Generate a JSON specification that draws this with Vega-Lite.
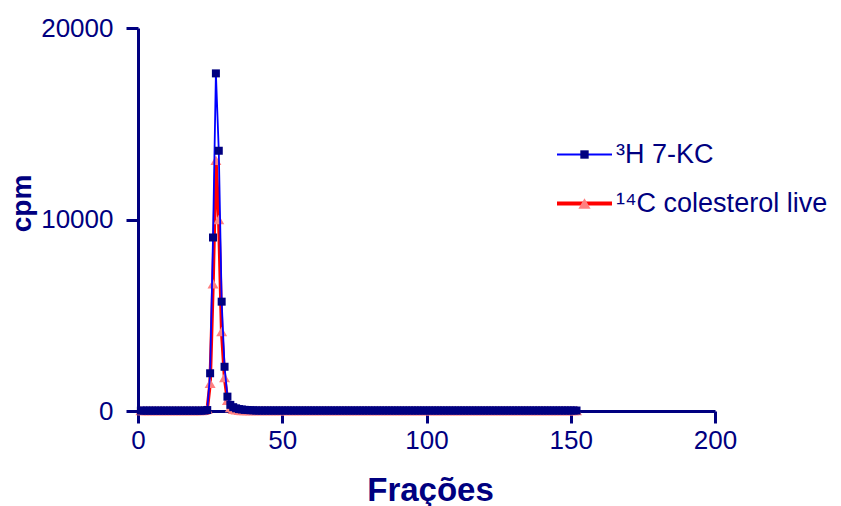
{
"$schema":"https://vega.github.io/schema/vega-lite/v6.json",
"width":577,"height":383,
"autosize":"none",
"padding":{"left":138,"top":28,"right":126,"bottom":95},
"config":{"view":{"stroke":null},"font":"Liberation Sans"},
"data":{"values":[
{"f":1,"h":20,"c":30},{"f":2,"h":20,"c":30},{"f":3,"h":20,"c":30},{"f":4,"h":20,"c":30},{"f":5,"h":20,"c":30},{"f":6,"h":20,"c":30},{"f":7,"h":20,"c":30},{"f":8,"h":20,"c":30},{"f":9,"h":20,"c":30},{"f":10,"h":20,"c":30},
{"f":11,"h":20,"c":30},{"f":12,"h":20,"c":30},{"f":13,"h":20,"c":30},{"f":14,"h":20,"c":30},{"f":15,"h":20,"c":30},{"f":16,"h":20,"c":30},{"f":17,"h":20,"c":30},{"f":18,"h":20,"c":30},{"f":19,"h":20,"c":30},{"f":20,"h":20,"c":30},
{"f":21,"h":20,"c":30},{"f":22,"h":20,"c":30},{"f":23,"h":25,"c":40},{"f":24,"h":50,"c":100},{"f":25,"h":1970,"c":1450},{"f":26,"h":9060,"c":6650},{"f":27,"h":17630,"c":13100},{"f":28,"h":13590,"c":10000},{"f":29,"h":5710,"c":4150},{"f":30,"h":2310,"c":1750},
{"f":31,"h":750,"c":560},{"f":32,"h":320,"c":180},{"f":33,"h":200,"c":90},{"f":34,"h":140,"c":60},{"f":35,"h":100,"c":40},{"f":36,"h":80,"c":30},{"f":37,"h":60,"c":25},{"f":38,"h":50,"c":25},{"f":39,"h":40,"c":25},{"f":40,"h":35,"c":25},
{"f":41,"h":25,"c":20},{"f":42,"h":25,"c":20},{"f":43,"h":25,"c":20},{"f":44,"h":25,"c":20},{"f":45,"h":25,"c":20},{"f":46,"h":25,"c":20},{"f":47,"h":25,"c":20},{"f":48,"h":25,"c":20},{"f":49,"h":25,"c":20},{"f":50,"h":25,"c":20},
{"f":51,"h":25,"c":20},{"f":52,"h":25,"c":20},{"f":53,"h":25,"c":20},{"f":54,"h":25,"c":20},{"f":55,"h":25,"c":20},{"f":56,"h":25,"c":20},{"f":57,"h":25,"c":20},{"f":58,"h":25,"c":20},{"f":59,"h":25,"c":20},{"f":60,"h":25,"c":20},
{"f":61,"h":25,"c":20},{"f":62,"h":25,"c":20},{"f":63,"h":25,"c":20},{"f":64,"h":25,"c":20},{"f":65,"h":25,"c":20},{"f":66,"h":25,"c":20},{"f":67,"h":25,"c":20},{"f":68,"h":25,"c":20},{"f":69,"h":25,"c":20},{"f":70,"h":25,"c":20},
{"f":71,"h":25,"c":20},{"f":72,"h":25,"c":20},{"f":73,"h":25,"c":20},{"f":74,"h":25,"c":20},{"f":75,"h":25,"c":20},{"f":76,"h":25,"c":20},{"f":77,"h":25,"c":20},{"f":78,"h":25,"c":20},{"f":79,"h":25,"c":20},{"f":80,"h":25,"c":20},
{"f":81,"h":25,"c":20},{"f":82,"h":25,"c":20},{"f":83,"h":25,"c":20},{"f":84,"h":25,"c":20},{"f":85,"h":25,"c":20},{"f":86,"h":25,"c":20},{"f":87,"h":25,"c":20},{"f":88,"h":25,"c":20},{"f":89,"h":25,"c":20},{"f":90,"h":25,"c":20},
{"f":91,"h":25,"c":20},{"f":92,"h":25,"c":20},{"f":93,"h":25,"c":20},{"f":94,"h":25,"c":20},{"f":95,"h":25,"c":20},{"f":96,"h":25,"c":20},{"f":97,"h":25,"c":20},{"f":98,"h":25,"c":20},{"f":99,"h":25,"c":20},{"f":100,"h":25,"c":20},
{"f":101,"h":25,"c":20},{"f":102,"h":25,"c":20},{"f":103,"h":25,"c":20},{"f":104,"h":25,"c":20},{"f":105,"h":25,"c":20},{"f":106,"h":25,"c":20},{"f":107,"h":25,"c":20},{"f":108,"h":25,"c":20},{"f":109,"h":25,"c":20},{"f":110,"h":25,"c":20},
{"f":111,"h":25,"c":20},{"f":112,"h":25,"c":20},{"f":113,"h":25,"c":20},{"f":114,"h":25,"c":20},{"f":115,"h":25,"c":20},{"f":116,"h":25,"c":20},{"f":117,"h":25,"c":20},{"f":118,"h":25,"c":20},{"f":119,"h":25,"c":20},{"f":120,"h":25,"c":20},
{"f":121,"h":25,"c":20},{"f":122,"h":25,"c":20},{"f":123,"h":25,"c":20},{"f":124,"h":25,"c":20},{"f":125,"h":25,"c":20},{"f":126,"h":25,"c":20},{"f":127,"h":25,"c":20},{"f":128,"h":25,"c":20},{"f":129,"h":25,"c":20},{"f":130,"h":25,"c":20},
{"f":131,"h":25,"c":20},{"f":132,"h":25,"c":20},{"f":133,"h":25,"c":20},{"f":134,"h":25,"c":20},{"f":135,"h":25,"c":20},{"f":136,"h":25,"c":20},{"f":137,"h":25,"c":20},{"f":138,"h":25,"c":20},{"f":139,"h":25,"c":20},{"f":140,"h":25,"c":20},
{"f":141,"h":25,"c":20},{"f":142,"h":25,"c":20},{"f":143,"h":25,"c":20},{"f":144,"h":25,"c":20},{"f":145,"h":25,"c":20},{"f":146,"h":25,"c":20},{"f":147,"h":25,"c":20},{"f":148,"h":25,"c":20},{"f":149,"h":25,"c":20},{"f":150,"h":25,"c":20},
{"f":151,"h":25,"c":20},{"f":152,"h":25,"c":20}
]},
"transform":[{"fold":["h","c"],"as":["s","v"]}],
"encoding":{
 "x":{"field":"f","type":"quantitative","scale":{"domain":[0,200],"nice":false,"zero":false},
  "axis":{"values":[0,50,100,150,200],"labelFlush":false,"title":"Frações","grid":false,"domainColor":"#000080","domainWidth":3,"tickColor":"#000080","tickWidth":3,"tickSize":12,"labelFontSize":26,"labelColor":"#000080","labelPadding":4,"labelFont":"Liberation Sans","titleFont":"Liberation Sans","titleFontSize":33,"titleFontWeight":"bold","titleColor":"#000080","titleX":292,"titleY":89,"titleBaseline":"alphabetic"}},
 "y":{"field":"v","type":"quantitative","scale":{"domain":[0,20000],"nice":false},
  "axis":{"values":[0,10000,20000],"labelFlush":false,"format":"d","title":"cpm","grid":false,"domainColor":"#000080","domainWidth":3,"tickColor":"#000080","tickWidth":3,"tickSize":12,"labelFontSize":26,"labelColor":"#000080","labelPadding":13,"labelFont":"Liberation Sans","titleFont":"Liberation Sans","titleFontSize":28,"titleFontWeight":"bold","titleColor":"#000080","titleX":-108,"titleY":175,"titleAlign":"center","titleBaseline":"alphabetic","titleAngle":-90}}
},
"layer":[
 {"transform":[{"filter":"datum.s==='c'"}],"mark":{"type":"line","strokeWidth":3.5},
  "encoding":{"color":{"field":"s","type":"nominal","scale":{"domain":["h","c"],"range":["#0000FF","#FF0000"]},
   "legend":{"orient":"none","legendX":433,"legendY":113,"title":null,"symbolType":"stroke","symbolSize":3025,"labelFontSize":27,"labelColor":"#000080","labelFont":"Liberation Sans","labelLimit":400,"labelOffset":18,"rowPadding":21,"labelExpr":"datum.value==='h' ? '³H 7-KC' : '¹⁴C colesterol live'","encode":{"symbols":{"update":{"strokeWidth":{"signal":"datum.value==='h' ? 1.8 : 4"}}}}}}}},
 {"transform":[{"filter":"datum.s==='c'"}],"mark":{"type":"point","filled":true,"opacity":1,"size":120},
  "encoding":{"fill":{"field":"s","type":"nominal","sort":"descending","scale":{"range":["#000080","#FF8080"]},
   "legend":{"orient":"none","legendX":433,"legendY":113,"title":null,"symbolSize":110,"symbolOpacity":1,"symbolStrokeWidth":0,"labelFontSize":27,"labelColor":"transparent","labelFont":"Liberation Sans","labelLimit":400,"labelOffset":18,"rowPadding":21,"labelExpr":"datum.value==='h' ? '³H 7-KC' : '¹⁴C colesterol live'","encode":{"symbols":{"update":{"size":{"signal":"datum.value==='h' ? 70 : 150"}}}}}},
   "shape":{"field":"s","type":"nominal","sort":"descending","scale":{"range":["square","triangle-up"]}}}},
 {"transform":[{"filter":"datum.s==='h'"}],"mark":{"type":"line","strokeWidth":1.8},
  "encoding":{"color":{"field":"s","type":"nominal"}}},
 {"transform":[{"filter":"datum.s==='h'"}],"mark":{"type":"point","filled":true,"opacity":1,"size":64},
  "encoding":{"fill":{"field":"s","type":"nominal","sort":"descending"},"shape":{"field":"s","type":"nominal","sort":"descending"}}}
]
}
